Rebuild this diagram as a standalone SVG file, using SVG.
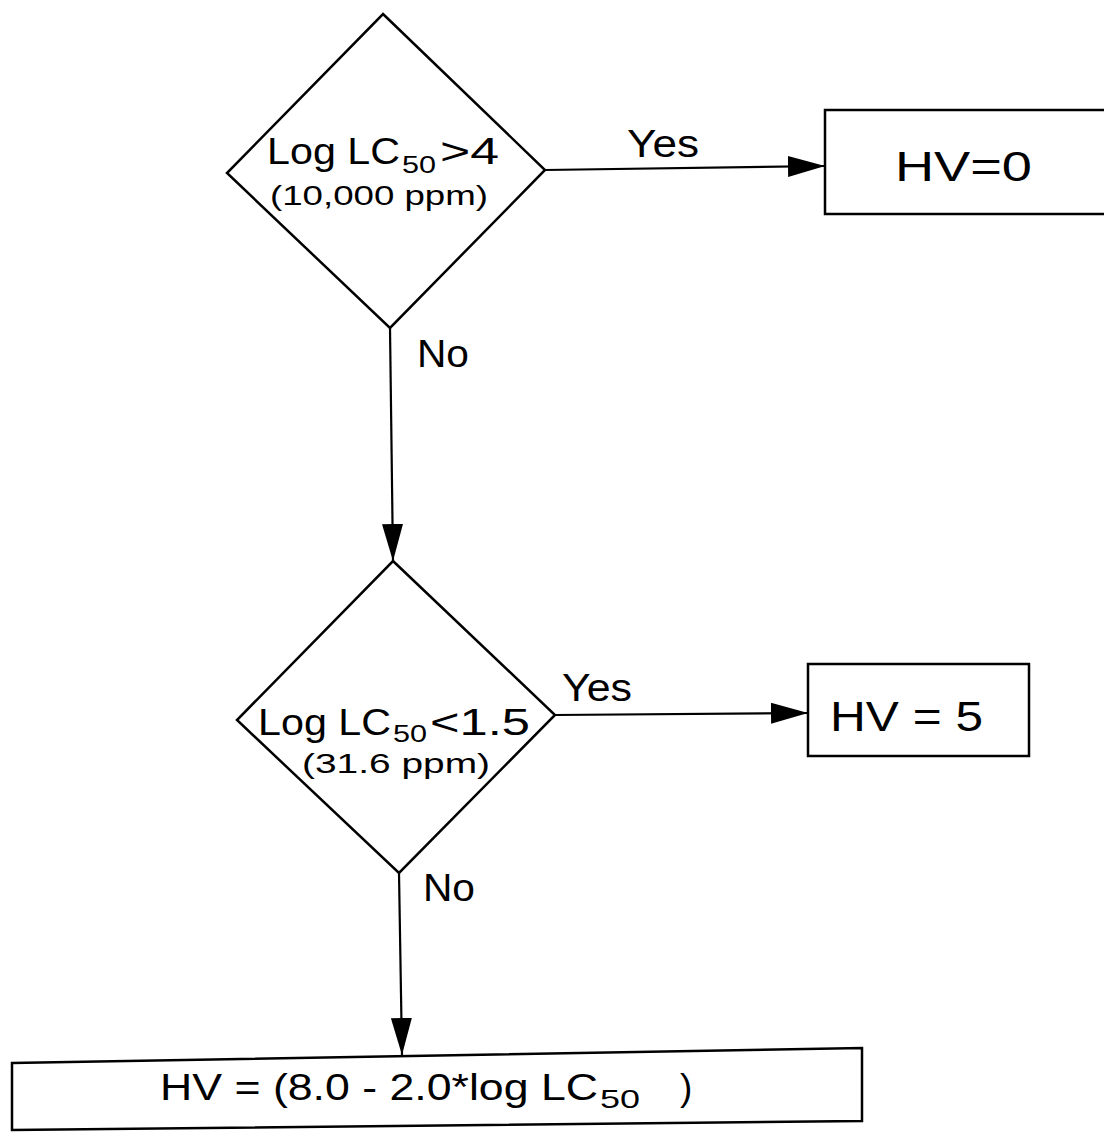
<svg xmlns="http://www.w3.org/2000/svg" width="1104" height="1139" viewBox="0 0 1104 1139">
<style>
.shape{fill:#fff;stroke:#000;stroke-width:2.5}
.conn{fill:none;stroke:#000;stroke-width:2.2}
text{font-family:"Liberation Sans",Arial,sans-serif;fill:#000}
.big{font-size:37px}
.sub{font-size:24px}
.small{font-size:27px}
.lbl{font-size:39px}
.res{font-size:42px}
</style>
<defs>
<marker id="arrow" markerUnits="userSpaceOnUse" markerWidth="38" markerHeight="22" refX="37" refY="10.5" orient="auto">
<path d="M0,0 L37,10.5 L0,21 z" fill="#000"/>
</marker>
</defs>
<rect width="1104" height="1139" fill="#fff"/>
<g id="connectors">
<line class="conn" x1="545" y1="170" x2="825" y2="166" marker-end="url(#arrow)"/>
<line class="conn" x1="390" y1="328" x2="393" y2="561" marker-end="url(#arrow)"/>
<line class="conn" x1="555" y1="715" x2="808" y2="713" marker-end="url(#arrow)"/>
<line class="conn" x1="399" y1="873" x2="402" y2="1055" marker-end="url(#arrow)"/>
<text class="lbl" x="627" y="157" textLength="72" lengthAdjust="spacingAndGlyphs">Yes</text>
<text class="lbl" x="417" y="367" textLength="52" lengthAdjust="spacingAndGlyphs">No</text>
<text class="lbl" x="562" y="701" textLength="70" lengthAdjust="spacingAndGlyphs">Yes</text>
<text class="lbl" x="423" y="901" textLength="52" lengthAdjust="spacingAndGlyphs">No</text>
</g>
<g id="decision1">
<polygon class="shape" points="383,14 545,170 390,328 227,173"/>
<text class="big" x="267" y="164" textLength="133" lengthAdjust="spacingAndGlyphs">Log LC</text>
<text class="sub" x="402" y="173" textLength="34" lengthAdjust="spacingAndGlyphs">50</text>
<text class="big" x="440" y="164" textLength="59" lengthAdjust="spacingAndGlyphs">&gt;4</text>
<text class="small" x="270" y="205" textLength="218" lengthAdjust="spacingAndGlyphs">(10,000 ppm)</text>
</g>
<g id="result1">
<rect class="shape" x="825" y="110" width="300" height="104"/>
<text class="res" x="895" y="181" textLength="137" lengthAdjust="spacingAndGlyphs">HV=0</text>
</g>
<g id="decision2">
<polygon class="shape" points="393,561 555,715 399,873 237,720"/>
<text class="big" x="258" y="735" textLength="133" lengthAdjust="spacingAndGlyphs">Log LC</text>
<text class="sub" x="393" y="742" textLength="34" lengthAdjust="spacingAndGlyphs">50</text>
<text class="big" x="430" y="735" textLength="100" lengthAdjust="spacingAndGlyphs">&lt;1.5</text>
<text class="small" x="302" y="773" textLength="188" lengthAdjust="spacingAndGlyphs">(31.6 ppm)</text>
</g>
<g id="result2">
<rect class="shape" x="808" y="664" width="221" height="92"/>
<text class="res" x="830" y="731" textLength="153" lengthAdjust="spacingAndGlyphs">HV = 5</text>
</g>
<g id="result3">
<polygon class="shape" points="12,1063 862,1048 862,1121 12,1130"/>
<text x="160" y="1100" style="font-size:37px" textLength="438" lengthAdjust="spacingAndGlyphs">HV = (8.0 - 2.0*log LC</text>
<text x="600" y="1108" style="font-size:26px" textLength="40" lengthAdjust="spacingAndGlyphs">50</text>
<text x="680" y="1100" style="font-size:37px">)</text>
</g>
</svg>
